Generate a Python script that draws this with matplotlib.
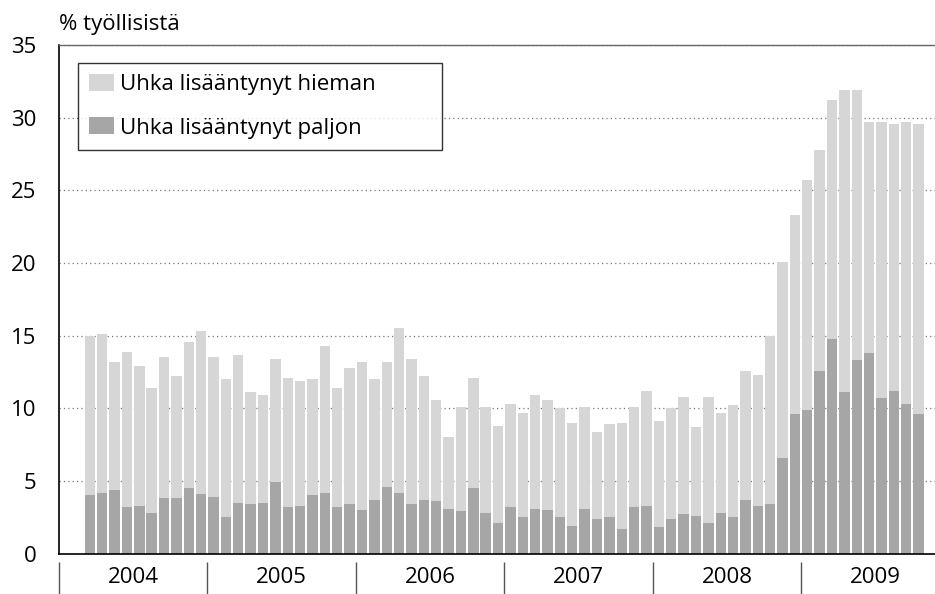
import matplotlib

matplotlib.use("Agg")
import matplotlib.pyplot as plt  # noqa: E402
import numpy as np  # noqa: E402
import pandas as pd  # noqa: E402

# Kuukausisarja maaliskuu 2004 - lokakuu 2009
kuukaudet = pd.period_range("2004-03", "2009-10", freq="M")
vuodet = [2004, 2005, 2006, 2007, 2008, 2009]

# Uhka lisääntynyt paljon (% työllisistä)
paljon = [
    4.0, 4.2, 4.4, 3.2, 3.3, 2.8, 3.8, 3.8, 4.5, 4.1,                  # 2004
    3.9, 2.5, 3.5, 3.4, 3.5, 4.9, 3.2, 3.3, 4.0, 4.2, 3.2, 3.4,        # 2005
    3.0, 3.7, 4.6, 4.2, 3.4, 3.7, 3.6, 3.1, 2.9, 4.5, 2.8, 2.1,        # 2006
    3.2, 2.5, 3.1, 3.0, 2.5, 1.9, 3.1, 2.4, 2.5, 1.7, 3.2, 3.3,        # 2007
    1.8, 2.4, 2.7, 2.6, 2.1, 2.8, 2.5, 3.7, 3.3, 3.4, 6.6, 9.6,        # 2008
    9.9, 12.6, 14.8, 11.1, 13.3, 13.8, 10.7, 11.2, 10.3, 9.6,          # 2009
]

# Uhka lisääntynyt hieman (% työllisistä)
hieman = [
    11.0, 10.9, 8.8, 10.7, 9.6, 8.6, 9.7, 8.4, 10.1, 11.2,             # 2004
    9.6, 9.5, 10.2, 7.7, 7.4, 8.5, 8.9, 8.6, 8.0, 10.1, 8.2, 9.4,      # 2005
    10.2, 8.3, 8.6, 11.3, 10.0, 8.5, 7.0, 4.9, 7.2, 7.6, 7.3, 6.7,     # 2006
    7.1, 7.2, 7.8, 7.6, 7.5, 7.1, 7.0, 6.0, 6.4, 7.3, 6.9, 7.9,        # 2007
    7.3, 7.6, 8.1, 6.1, 8.7, 6.9, 7.7, 8.9, 9.0, 11.6, 13.5, 13.7,     # 2008
    15.8, 15.2, 16.4, 20.8, 18.6, 15.9, 19.0, 18.4, 19.4, 20.0,        # 2009
]

COL_HIEMAN = "#d6d6d6"
COL_PALJON = "#a6a6a6"
FS = 16

plt.rcParams["font.family"] = ["Open Sans", "DejaVu Sans"]

# x = kuukausia tammikuusta 2004, palkki keskellä kuukautta
x = np.array([(p.year - 2004) * 12 + p.month - 1 for p in kuukaudet]) + 0.5

fig = plt.figure(figsize=(9.35, 5.94), dpi=100)
ax = fig.add_axes([0.063, 0.068, 0.94, 0.856])

ax.bar(x, paljon, width=0.84, color=COL_PALJON, zorder=2,
       label="Uhka lisääntynyt paljon")
ax.bar(x, hieman, width=0.84, bottom=paljon, color=COL_HIEMAN, zorder=2,
       label="Uhka lisääntynyt hieman")

ax.set_xlim(0, 71.05)
ax.set_ylim(0, 35)
ax.set_yticks(range(0, 36, 5))
ax.tick_params(axis="y", length=0, pad=16, labelsize=FS)
ax.yaxis.grid(True, ls=(0, (1, 2.5)), color="#777777", lw=0.9, zorder=0)

# vuosierottimet ja vuosiotsikot akselin alla
ax.set_xticks([])
rajat = [(v - 2004) * 12 for v in vuodet]
ax.vlines(rajat, -0.016, -0.12, transform=ax.get_xaxis_transform(),
          color="#555555", lw=1.0, clip_on=False)
for v, r in zip(vuodet, rajat):
    ax.text(r + 6, -0.047, str(v), transform=ax.get_xaxis_transform(),
            ha="center", va="center", fontsize=FS)

for s in ("left", "bottom"):
    ax.spines[s].set_color("black")
    ax.spines[s].set_linewidth(1.2)
ax.spines["top"].set_color("#666666")
ax.spines["top"].set_linewidth(1.0)
ax.spines["right"].set_visible(False)

ax.text(0, 1.02, "% työllisistä", transform=ax.transAxes, ha="left",
        va="bottom", fontsize=FS)

h, l = ax.get_legend_handles_labels()
leg = ax.legend(h[::-1], l[::-1], loc="upper left", mode="expand",
                bbox_to_anchor=(0.0216, 0.79, 0.414, 0.1746),
                fontsize=FS, frameon=True, fancybox=False, borderpad=0.49,
                handlelength=1.15, handleheight=0.8, handletextpad=0.25,
                labelspacing=1.0, borderaxespad=0)
leg.get_frame().set_edgecolor("black")
leg.get_frame().set_linewidth(1.0)

fig.savefig("out.png", dpi=100)
